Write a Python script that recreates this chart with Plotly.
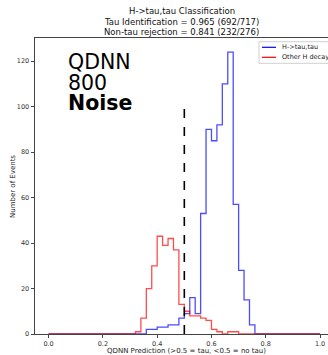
import numpy as np
import plotly.graph_objects as go

# 50 bins of width 0.02 between 0 and 1
bin_edges = np.round(np.linspace(0.0, 1.0, 51), 2).tolist()

tau_counts = [0, 0, 0, 0, 0, 0, 0, 0, 0, 0,
              0, 0, 0, 0, 0, 0, 0, 0, 2, 2,
              3, 3, 4, 4, 7, 9, 16, 9, 53, 90,
              85, 92, 110, 124, 57, 28, 15, 4, 0, 0,
              0, 0, 0, 0, 0, 0, 0, 0, 0, 0]

other_counts = [0, 0, 0, 0, 0, 0, 0, 0, 0, 0,
                0, 0, 0, 0, 0, 0, 1, 7, 20, 30,
                43, 39, 42, 37, 13, 10, 8, 8, 7, 6,
                2, 1, 0, 1, 1, 0, 0, 0, 0, 0,
                0, 0, 0, 0, 0, 0, 0, 0, 0, 0]

x_ticks = [0.0, 0.2, 0.4, 0.6, 0.8, 1.0]
y_ticks = [0, 20, 40, 60, 80, 100, 120]
series_names = ["H->tau,tau", "Other H decay"]
series_colors = ["rgba(0,0,255,0.7)", "rgba(255,0,0,0.7)"]
title_lines = ["H->tau,tau Classification",
               "Tau Identification = 0.965 (692/717)",
               "Non-tau rejection = 0.841 (232/276)"]
overlay_lines = ["QDNN", "800", "<b>Noise</b>"]
cut_value = 0.5
cut_height = 100

FONT = "DejaVu Sans"
W, H = 328, 355
L, R, T, B = 35, 0, 38, 21
PW, PH = W - L - R, H - T - B
Y0 = H - B  # pixel row of the x axis


def px(x):
    return (x - L) / PW


def py(y):
    return (Y0 - y) / PH


fig = go.Figure()
for counts, name, color in zip([tau_counts, other_counts], series_names, series_colors):
    fig.add_trace(go.Scatter(
        x=bin_edges, y=counts + [counts[-1]], mode="lines", name=name,
        line=dict(color=color, width=1.3, shape="hv"), hoverinfo="skip"))

fig.add_trace(go.Scatter(x=[cut_value, cut_value], y=[0, cut_height], mode="lines",
                         line=dict(color="black", width=1.6, dash="dash"),
                         showlegend=False, hoverinfo="skip"))

annotations = []
for i, t in enumerate(title_lines):
    annotations.append(dict(text=t, xref="paper", yref="paper",
                            x=0.5, y=py(11 + 10.6 * i),
                            xanchor="center", yanchor="middle", showarrow=False,
                            font=dict(family=FONT, size=8.5, color="#111")))
for i, t in enumerate(overlay_lines):
    annotations.append(dict(text=t, xref="paper", yref="paper",
                            x=px(66), y=py(62 + 20.5 * i),
                            xanchor="left", yanchor="middle", showarrow=False,
                            font=dict(family=FONT, size=20.5, color="black")))
annotations.append(dict(text="Number of Events", xref="paper", yref="paper",
                        x=px(13), y=0.5, textangle=-90,
                        xanchor="center", yanchor="middle", showarrow=False,
                        font=dict(family=FONT, size=7, color="#222")))
annotations.append(dict(text="QDNN Prediction (>0.5 = tau, <0.5 = no tau)",
                        xref="paper", yref="paper",
                        x=px(186), y=py(350.5),
                        xanchor="center", yanchor="middle", showarrow=False,
                        font=dict(family=FONT, size=7, color="#222")))

# legend drawn by hand (box partially outside the figure, as in the reference)
shapes = [dict(type="rect", xref="paper", yref="paper",
               x0=px(259), x1=px(345), y0=py(63.3), y1=py(41.7),
               fillcolor="rgba(255,255,255,0.85)", line=dict(color="#d0d0d0", width=1),
               layer="above")]
for i, (name, color) in enumerate(zip(series_names, [c.replace("0.7", "1") for c in series_colors])):
    yy = 47.3 + 10 * i
    shapes.append(dict(type="line", xref="paper", yref="paper",
                       x0=px(262), x1=px(276), y0=py(yy), y1=py(yy),
                       line=dict(color=color, width=1.2), layer="above"))
    annotations.append(dict(text=name, xref="paper", yref="paper",
                            x=px(280), y=py(yy), xanchor="left", yanchor="middle",
                            showarrow=False,
                            font=dict(family=FONT, size=6.5, color="#222")))

fig.update_layout(
    width=W, height=H,
    margin=dict(l=L, r=R, t=T, b=B, pad=0, autoexpand=False),
    paper_bgcolor="white", plot_bgcolor="white",
    font=dict(family=FONT, size=6.5, color="#333"),
    annotations=annotations, shapes=shapes,
    showlegend=False,
)
fig.update_xaxes(range=[-0.05, -0.05 + PW / 271.5], tickvals=x_ticks,
                 ticktext=[f"{v:.1f}" for v in x_ticks],
                 showgrid=False, zeroline=False, showline=True, linecolor="#444",
                 linewidth=1, mirror=True, ticks="outside", ticklen=3,
                 tickcolor="#444", automargin=False,
                 tickfont=dict(family=FONT, size=6.5, color="#333"))
fig.update_yaxes(range=[0, 130.2], tickvals=y_ticks, showgrid=False, zeroline=False,
                 showline=True, linecolor="#444", linewidth=1, mirror=False,
                 ticks="outside", ticklen=3.5, tickcolor="#444", automargin=False,
                 tickfont=dict(family=FONT, size=6.5, color="#333"))

fig.write_html("out.html", config={"displayModeBar": False},
               post_script="document.body.style.margin='0';document.body.style.overflow='hidden';")
